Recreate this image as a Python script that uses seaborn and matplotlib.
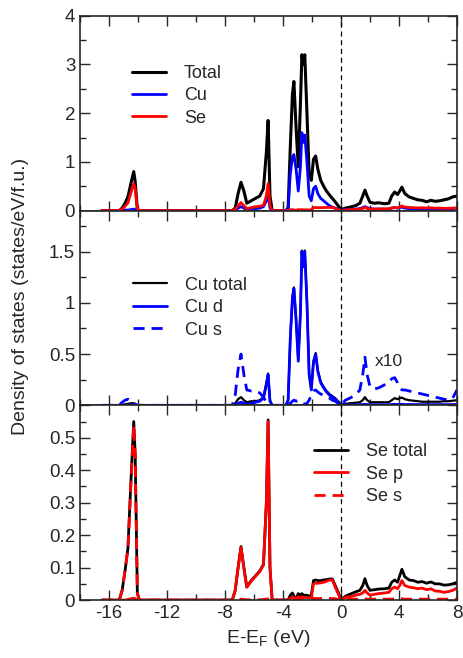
import matplotlib
matplotlib.use("Agg")
import matplotlib.pyplot as plt
from matplotlib.ticker import MultipleLocator, FuncFormatter
import seaborn as sns
import pandas as pd

# === 1. Energy grid (eV, relative to E_F) ===
energy = [-16.5, -15.3, -15.1, -14.9, -14.7, -14.5, -14.3, -14.2, -14.05, -13.9,
          -7.5, -7.3, -7.1, -6.9, -6.7, -6.5, -6.2, -5.9, -5.6, -5.35,
          -5.15, -5.03, -4.9, -4.75, -4.2, -3.8, -3.65, -3.5, -3.35, -3.25,
          -3.1, -2.95, -2.8, -2.7, -2.6, -2.5, -2.35, -2.2, -2.05, -1.9,
          -1.75, -1.6, -1.4, -1.2, -1.0, -0.8, -0.6, -0.4, -0.2, 0.0,
          0.3, 0.6, 1.0, 1.3, 1.5, 1.65, 1.8, 2.0, 2.3, 2.6,
          3.0, 3.3, 3.5, 3.7, 3.9, 4.05, 4.2, 4.4, 4.7, 5.0,
          5.3, 5.6, 5.9, 6.2, 6.5, 6.8, 7.1, 7.4, 7.7, 8.0]

# === 2. Panel 1: total DOS and atom projections ===
dos_total = [0, 0, 0.05, 0.15, 0.28, 0.55, 0.8, 0.6, 0.02, 0,
             0, 0.05, 0.35, 0.58, 0.4, 0.15, 0.2, 0.25, 0.3, 0.45,
             1.2, 1.85, 0.3, 0, 0, 0, 0.05, 1.3, 2.4, 2.65,
             1.7, 0.9, 2.2, 3.2, 3.0, 3.2, 2.0, 0.75, 0.62, 1.05,
             1.12, 0.85, 0.62, 0.5, 0.4, 0.32, 0.25, 0.18, 0.1, 0.02,
             0.05, 0.07, 0.1, 0.15, 0.3, 0.42, 0.3, 0.17, 0.15, 0.16,
             0.14, 0.15, 0.3, 0.38, 0.33, 0.4, 0.48, 0.35, 0.28, 0.25,
             0.22, 0.21, 0.18, 0.21, 0.19, 0.2, 0.22, 0.24, 0.28, 0.3]

dos_cu = [0, 0, 0, 0.01, 0.01, 0.02, 0.03, 0.02, 0, 0,
          0, 0.01, 0.05, 0.08, 0.05, 0.02, 0.03, 0.04, 0.05, 0.08,
          0.2, 0.32, 0.05, 0, 0, 0, 0.05, 0.75, 1.1, 1.15,
          0.85, 0.4, 0.9, 1.6, 1.4, 1.55, 1.0, 0.3, 0.2, 0.45,
          0.5, 0.35, 0.25, 0.2, 0.15, 0.1, 0.07, 0.05, 0.03, 0.01,
          0.02, 0.02, 0.03, 0.04, 0.06, 0.08, 0.06, 0.04, 0.03, 0.03,
          0.03, 0.03, 0.05, 0.06, 0.05, 0.06, 0.07, 0.05, 0.04, 0.04,
          0.03, 0.03, 0.03, 0.03, 0.03, 0.03, 0.03, 0.03, 0.04, 0.05]

# === 3. Panel 2: Cu projections (Cu s multiplied by 10) ===
cu_total = [0, 0, 0.005, 0.01, 0.015, 0.02, 0.02, 0.015, 0, 0,
            0, 0.02, 0.06, 0.08, 0.05, 0.03, 0.04, 0.04, 0.05, 0.08,
            0.22, 0.31, 0.05, 0, 0, 0, 0.05, 0.66, 1.06, 1.15,
            0.84, 0.44, 0.91, 1.51, 1.36, 1.51, 1.01, 0.31, 0.16, 0.43,
            0.51, 0.34, 0.23, 0.18, 0.14, 0.11, 0.09, 0.07, 0.04, 0.01,
            0.015, 0.02, 0.025, 0.03, 0.05, 0.08, 0.05, 0.03, 0.03, 0.03,
            0.03, 0.03, 0.05, 0.07, 0.06, 0.07, 0.075, 0.06, 0.05, 0.045,
            0.04, 0.035, 0.035, 0.035, 0.035, 0.035, 0.04, 0.04, 0.045, 0.05]

cu_d = [0, 0, 0, 0, 0, 0.005, 0.01, 0.005, 0, 0,
        0, 0.005, 0.02, 0.03, 0.02, 0.01, 0.02, 0.03, 0.04, 0.07,
        0.2, 0.3, 0.04, 0, 0, 0, 0.05, 0.65, 1.05, 1.14,
        0.83, 0.43, 0.9, 1.5, 1.35, 1.5, 1.0, 0.3, 0.15, 0.42,
        0.5, 0.33, 0.22, 0.17, 0.13, 0.1, 0.08, 0.06, 0.03, 0.005,
        0.005, 0.005, 0.005, 0.006, 0.008, 0.01, 0.008, 0.006, 0.006, 0.006,
        0.006, 0.006, 0.008, 0.01, 0.008, 0.01, 0.01, 0.008, 0.008, 0.008,
        0.007, 0.007, 0.007, 0.007, 0.007, 0.007, 0.007, 0.007, 0.008, 0.008]

cu_s_x10 = [0, 0, 0.03, 0.05, 0.06, 0.04, 0.02, 0.01, 0, 0,
            0, 0.1, 0.35, 0.5, 0.3, 0.15, 0.14, 0.14, 0.12, 0.08,
            0.03, 0.02, 0.01, 0, 0, 0, 0, 0.02, 0.04, 0.05,
            0.04, 0.05, 0.04, 0.03, 0.02, 0.01, 0.02, 0.05, 0.1, 0.14,
            0.15, 0.13, 0.11, 0.1, 0.08, 0.07, 0.05, 0.04, 0.02, 0,
            0.05, 0.07, 0.1, 0.15, 0.3, 0.47, 0.3, 0.18, 0.16, 0.17,
            0.2, 0.22, 0.26, 0.27, 0.22, 0.17, 0.15, 0.15, 0.14, 0.13,
            0.12, 0.11, 0.1, 0.09, 0.08, 0.07, 0.06, 0.05, 0.07, 0.15]

# === 4. Panel 3: Se projections ===
se_total = [0, 0, 0.03, 0.09, 0.16, 0.36, 0.55, 0.45, 0.02, 0,
            0, 0.03, 0.1, 0.165, 0.1, 0.04, 0.06, 0.075, 0.09, 0.11,
            0.3, 0.555, 0.1, 0, 0, 0, 0, 0.015, 0.022, 0.012,
            0.005, 0.02, 0.015, 0.02, 0.015, 0.015, 0.015, 0.012, 0.015, 0.06,
            0.062, 0.06, 0.06, 0.062, 0.063, 0.065, 0.065, 0.045, 0.025, 0,
            0.012, 0.018, 0.025, 0.03, 0.045, 0.066, 0.045, 0.03, 0.032, 0.034,
            0.035, 0.037, 0.055, 0.062, 0.055, 0.075, 0.095, 0.072, 0.062, 0.06,
            0.055, 0.057, 0.052, 0.056, 0.05, 0.05, 0.046, 0.047, 0.05, 0.055]

se_p = [0, 0, 0, 0, 0.002, 0.004, 0.006, 0.004, 0, 0,
        0, 0.03, 0.1, 0.162, 0.098, 0.04, 0.058, 0.073, 0.088, 0.108,
        0.3, 0.55, 0.1, 0, 0, 0, 0, 0.005, 0.01, 0.008,
        0.004, 0.01, 0.008, 0.01, 0.008, 0.008, 0.008, 0.006, 0.01, 0.05,
        0.052, 0.052, 0.053, 0.055, 0.058, 0.062, 0.062, 0.04, 0.02, 0,
        0.008, 0.01, 0.015, 0.018, 0.022, 0.03, 0.022, 0.015, 0.018, 0.02,
        0.022, 0.024, 0.035, 0.04, 0.035, 0.045, 0.06, 0.045, 0.04, 0.038,
        0.035, 0.037, 0.032, 0.035, 0.028, 0.027, 0.024, 0.026, 0.03, 0.037]

se_s = [0, 0, 0.03, 0.09, 0.16, 0.35, 0.54, 0.44, 0.02, 0,
        0, 0.001, 0.002, 0.003, 0.002, 0.001, 0.001, 0.001, 0.001, 0.002,
        0.003, 0.004, 0.001, 0, 0, 0, 0, 0.003, 0.004, 0.003,
        0.002, 0.004, 0.003, 0.003, 0.003, 0.003, 0.003, 0.003, 0.003, 0.005,
        0.005, 0.005, 0.005, 0.005, 0.005, 0.005, 0.005, 0.004, 0.002, 0,
        0.002, 0.002, 0.003, 0.003, 0.003, 0.004, 0.003, 0.003, 0.003, 0.003,
        0.003, 0.003, 0.003, 0.004, 0.003, 0.004, 0.004, 0.003, 0.003, 0.003,
        0.003, 0.003, 0.003, 0.003, 0.003, 0.003, 0.003, 0.003, 0.003, 0.003]

# === 5. Style ===
sns.set_theme(style="ticks")
plt.rcParams["font.family"] = ["Liberation Sans", "DejaVu Sans"]
plt.rcParams["mathtext.default"] = "regular"

fig, axes = plt.subplots(3, 1, sharex=True, figsize=(4.63, 6.58), dpi=100)
fig.subplots_adjust(left=0.173, right=0.987, top=0.976, bottom=0.088, hspace=0)

panels = [
    [("Total", dos_total, "black", "-", 2.2), ("Cu", dos_cu, "blue", "-", 2.0),
     ("Se", se_total, "red", "-", 2.0)],
    [("Cu total", cu_total, "black", "-", 1.6), ("Cu d", cu_d, "blue", "-", 2.0),
     ("Cu s", cu_s_x10, "blue", "--", 2.0)],
    [("Se total", se_total, "black", "-", 2.0), ("Se p", se_p, "red", "-", 2.0),
     ("Se s", se_s, "red", "--", 2.0)],
]
ylims = [4, 1.9, 0.6]
ymajor = [1, 0.5, 0.1]
yminor = [0.5, 0.25, 0.05]
legend_anchor = [(0.137, 0.748), (0.14, 0.66), (0.62, 0.805)]

for ax, series, ytop, maj, mnr, anchor in zip(axes, panels, ylims, ymajor, yminor, legend_anchor):
    for name, vals, color, ls, lw in series:
        df = pd.DataFrame({"E": energy, "dos": vals})
        line_kw = dict(dashes=(4, 2.5)) if ls == "--" else {}
        sns.lineplot(data=df, x="E", y="dos", ax=ax, color=color, linewidth=lw,
                     label=name, sort=False, estimator=None, **line_kw)
    ax.axvline(0, color="black", linewidth=0.9, linestyle=(0, (4, 3)))
    ax.set_xlim(-18, 8)
    ax.set_ylim(0, ytop)
    ax.yaxis.set_major_locator(MultipleLocator(maj))
    ax.yaxis.set_minor_locator(MultipleLocator(mnr))
    ax.xaxis.set_major_locator(MultipleLocator(4))
    ax.xaxis.set_minor_locator(MultipleLocator(2))
    ax.yaxis.set_major_formatter(FuncFormatter(
        lambda v, p, top=ytop: "" if v > top - 1e-6 and top < 1 else f"{v:g}"))
    ax.tick_params(which="both", direction="in", top=True, right=True, labelsize=13.5)
    ax.tick_params(which="major", length=7, width=1)
    ax.tick_params(which="minor", length=4, width=1)
    for sp in ax.spines.values():
        sp.set_linewidth(1.2)
    ax.set_xlabel("")
    ax.set_ylabel("")
    ax.legend(loc="upper left", bbox_to_anchor=anchor, frameon=False, fontsize=13,
              handlelength=1.9, handletextpad=1.0, labelspacing=0.3,
              borderpad=0, borderaxespad=0)

axes[1].text(2.35, 0.43, "x10", fontsize=12.5, va="center", ha="left")
axes[2].set_xlabel("E-E$_F$ (eV)", fontsize=14)
axes[2].xaxis.set_major_formatter(FuncFormatter(lambda v, p: f"{v:g}"))
fig.text(0.045, 0.55, "Density of states (states/eV/f.u.)", rotation=90,
         ha="center", va="center", fontsize=14)

plt.savefig("out.png", dpi=100)
